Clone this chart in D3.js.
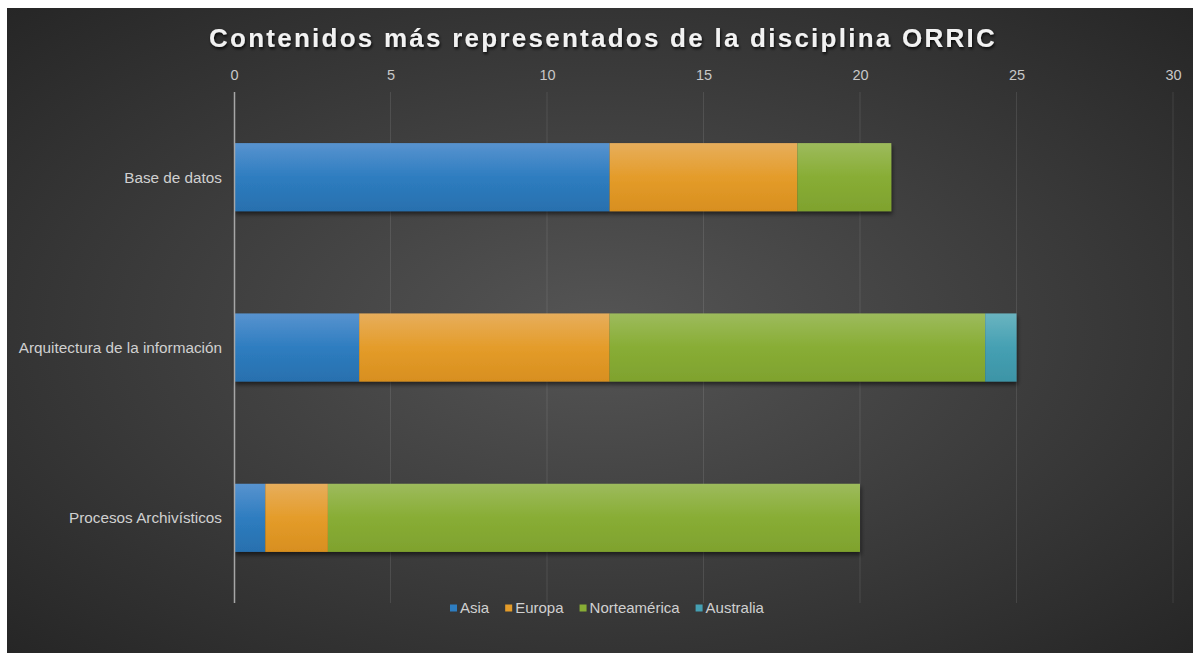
<!DOCTYPE html>
<html>
<head>
<meta charset="utf-8">
<script src="https://cdn.jsdelivr.net/npm/d3@7"></script>
<style>
  body { margin: 0; background: #fff; }
  svg { display: block; }
</style>
</head>
<body>
<div id="chart"></div>
<script>
// chart data
const categories = ["Base de datos", "Arquitectura de la información", "Procesos Archivísticos"];
const seriesNames = ["Asia", "Europa", "Norteamérica", "Australia"];
const asia = [12, 4, 1];
const europa = [6, 8, 2];
const norteamerica = [3, 12, 17];
const australia = [0, 1, 0];
const xTicks = [0, 5, 10, 15, 20, 25, 30];
const colors = ["#2e7dc0", "#e49c2a", "#88ad35", "#45a0b3"];
const lightColors = ["#5893cf", "#e7ae5c", "#9dbb5c", "#6ab4c0"];
const darkColors = ["#2870ae", "#d88f1f", "#7fa22e", "#3d94a6"];

const width = 1193, height = 653;
const svg = d3.select("#chart").append("svg")
    .attr("width", width)
    .attr("height", height);

const defs = svg.append("defs");

// background gradient
const bg = defs.append("radialGradient")
    .attr("id", "bg")
    .attr("cx", "0.5").attr("cy", "0.5").attr("r", "0.75");
bg.append("stop").attr("offset", "0%").attr("stop-color", "#555555");
bg.append("stop").attr("offset", "100%").attr("stop-color", "#232323");

seriesNames.forEach((s, i) => {
    const g = defs.append("linearGradient")
        .attr("id", "grad" + i)
        .attr("x1", 0).attr("y1", 0).attr("x2", 0).attr("y2", 1);
    g.append("stop").attr("offset", "0%").attr("stop-color", lightColors[i]);
    g.append("stop").attr("offset", "50%").attr("stop-color", colors[i]);
    g.append("stop").attr("offset", "100%").attr("stop-color", darkColors[i]);
});

const shadow = defs.append("filter").attr("id", "shadow")
    .attr("x", "-10%").attr("y", "-20%").attr("width", "120%").attr("height", "160%");
shadow.append("feDropShadow")
    .attr("dx", 1).attr("dy", 3).attr("stdDeviation", 2)
    .attr("flood-color", "#000").attr("flood-opacity", 0.55);

const titleShadow = defs.append("filter").attr("id", "tshadow")
    .attr("x", "-5%").attr("y", "-30%").attr("width", "110%").attr("height", "180%");
titleShadow.append("feDropShadow")
    .attr("dx", 1).attr("dy", 2).attr("stdDeviation", 1.5)
    .attr("flood-color", "#000").attr("flood-opacity", 0.8);

svg.append("rect")
    .attr("x", 7).attr("y", 8)
    .attr("width", width - 7).attr("height", height - 8)
    .attr("fill", "url(#bg)");

const plot = { left: 234, right: 1173, top: 92, bottom: 603 };

const x = d3.scaleLinear()
    .domain([0, 30])
    .range([plot.left, plot.right]);

const y = d3.scaleBand()
    .domain(categories)
    .range([plot.top, plot.bottom])
    .paddingInner(0.6)
    .paddingOuter(0.3);

// gridlines
svg.append("g")
    .selectAll("line")
    .data(xTicks.slice(1))
    .enter()
    .append("line")
    .attr("x1", d => x(d)).attr("x2", d => x(d))
    .attr("y1", plot.top).attr("y2", plot.bottom)
    .attr("stroke", "#ffffff")
    .attr("stroke-opacity", 0.1)
    .attr("stroke-width", 1);

// top axis labels
const xAxis = d3.axisTop(x).tickValues(xTicks).tickSize(0).tickPadding(0);
const xg = svg.append("g")
    .attr("transform", `translate(0, 80)`)
    .call(xAxis);
xg.select(".domain").remove();
xg.selectAll("text")
    .attr("fill", "#c8c8c8")
    .style("font-family", "Arial, 'Liberation Sans', sans-serif")
    .style("font-size", "14.5px");

// stacked bars
const rows = categories.map((c, i) => ({
    category: c,
    Asia: asia[i],
    Europa: europa[i],
    "Norteamérica": norteamerica[i],
    Australia: australia[i]
}));
const stack = d3.stack().keys(seriesNames);
const stacked = stack(rows);

const layers = svg.append("g").attr("filter", "url(#shadow)");
stacked.forEach((layer, i) => {
    layers.selectAll(".bar" + i)
        .data(layer.filter(d => d[1] > d[0]))
        .enter()
        .append("rect")
        .attr("class", "bar" + i)
        .attr("x", d => x(d[0]))
        .attr("y", d => y(d.data.category))
        .attr("width", d => x(d[1]) - x(d[0]))
        .attr("height", y.bandwidth())
        .attr("fill", `url(#grad${i})`);
});

// left axis line + labels
svg.append("line")
    .attr("x1", plot.left + 0.5).attr("x2", plot.left + 0.5)
    .attr("y1", plot.top).attr("y2", plot.bottom)
    .attr("stroke", "#a6a6a6")
    .attr("stroke-width", 1.5);

svg.append("g")
    .selectAll("text")
    .data(categories)
    .enter()
    .append("text")
    .attr("x", 222)
    .attr("y", d => y(d) + y.bandwidth() / 2)
    .attr("dy", "0.35em")
    .attr("text-anchor", "end")
    .attr("fill", "#d0d0d0")
    .style("font-family", "Arial, 'Liberation Sans', sans-serif")
    .style("font-size", "15.3px")
    .text(d => d);

// title
svg.append("text")
    .attr("x", 603)
    .attr("y", 47)
    .attr("text-anchor", "middle")
    .attr("fill", "#f2f2f2")
    .attr("filter", "url(#tshadow)")
    .style("font-family", "Arial, 'Liberation Sans', sans-serif")
    .style("font-size", "26px")
    .style("font-weight", "bold")
    .style("letter-spacing", "2.25px")
    .text("Contenidos más representados de la disciplina ORRIC");

// legend
const legendItems = seriesNames.map((s, i) => ({ name: s, color: colors[i] }));
const legend = svg.append("g").attr("transform", "translate(0, 608)");
let lx = 450;
legendItems.forEach(item => {
    const g = legend.append("g").attr("transform", `translate(${lx}, 0)`);
    g.append("rect")
        .attr("x", 0).attr("y", -3.5)
        .attr("width", 7).attr("height", 7)
        .attr("fill", item.color);
    const t = g.append("text")
        .attr("x", 10)
        .attr("dy", "0.35em")
        .attr("fill", "#d0d0d0")
        .style("font-family", "Arial, 'Liberation Sans', sans-serif")
        .style("font-size", "15px")
        .text(item.name);
    lx += 10 + t.node().getComputedTextLength() + 16;
});
</script>
</body>
</html>
